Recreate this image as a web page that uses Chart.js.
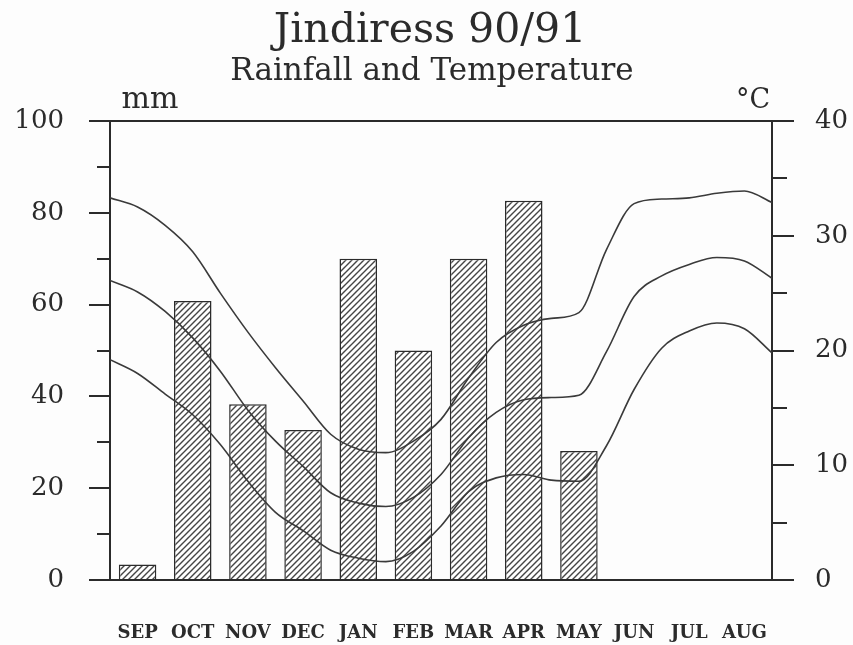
<!DOCTYPE html>
<html>
<head>
<meta charset="utf-8">
<title>Jindiress 90/91</title>
<script src="https://cdn.jsdelivr.net/npm/chart.js@4.4.0/dist/chart.umd.min.js"></script>
<style>
  html, body { margin: 0; padding: 0; background: #fdfdfd; }
  #wrap { width: 853px; height: 645px; }
</style>
</head>
<body>
<div id="wrap"><canvas id="chart" width="853" height="645"></canvas></div>
<script>
// ==== Data ====
const months = ["SEP", "OCT", "NOV", "DEC", "JAN", "FEB", "MAR", "APR", "MAY", "JUN", "JUL", "AUG"];
// rainfall, mm (no bars Jun-Aug)
const rainfall = [3.4, 60.8, 38.3, 32.7, 70, 50, 70, 82.6, 28.1, null, null, null];

// temperature curves read every half month, from the start of SEP (-0.5) to the end of AUG (11.5)
const tempPos = [-0.5, 0, 0.5, 1, 1.5, 2, 2.5, 3, 3.5, 4, 4.5, 5, 5.5, 6, 6.5, 7, 7.5, 8, 8.5, 9, 9.5, 10, 10.5, 11, 11.5];
const maxTemp = [33.3, 32.5, 30.9, 28.6, 25.0, 21.6, 18.5, 15.6, 12.7, 11.4, 11.1, 12.1, 14.0, 17.6, 20.7, 22.2, 22.8, 23.3, 28.8, 32.8, 33.2, 33.3, 33.7, 33.9, 32.9];
const meanTemp = [26.1, 25.1, 23.4, 21.1, 18.2, 14.8, 12.1, 9.9, 7.6, 6.7, 6.4, 7.2, 9.2, 12.4, 14.6, 15.7, 15.9, 16.1, 19.9, 24.7, 26.5, 27.5, 28.1, 27.8, 26.3];
const minTemp = [19.2, 18.0, 16.2, 14.4, 11.8, 8.6, 5.9, 4.3, 2.6, 1.9, 1.6, 2.5, 4.7, 7.7, 8.9, 9.2, 8.7, 8.6, 11.7, 16.6, 20.2, 21.7, 22.4, 21.9, 19.8];

// ==== Style ====
const ink = "#2b2b2b";
const lineInk = "#3a3a3a";
const serif = "'DejaVu Serif', 'Liberation Serif', serif";

// ==== Hatch pattern for the bars ====
function hatch() {
  const c = document.createElement("canvas");
  c.width = 6;
  c.height = 6;
  const g = c.getContext("2d");
  g.fillStyle = "#ffffff";
  g.fillRect(0, 0, 6, 6);
  g.strokeStyle = "#454545";
  g.lineWidth = 1.4;
  g.beginPath();
  g.moveTo(0, 6); g.lineTo(6, 0);
  g.moveTo(-1, 1); g.lineTo(1, -1);
  g.moveTo(5, 7); g.lineTo(7, 5);
  g.stroke();
  return g.createPattern(c, "repeat");
}

const toPoints = (vals) => vals.map((v, i) => ({ x: tempPos[i], y: v }));

// ==== Header texts ====
const header = {
  id: "header",
  afterDraw(chart) {
    const ctx = chart.ctx;
    ctx.save();
    ctx.fillStyle = ink;
    ctx.textAlign = "center";
    ctx.textBaseline = "alphabetic";
    ctx.font = "41px " + serif;
    ctx.fillText("Jindiress 90/91", 430, 42);
    ctx.font = "31px " + serif;
    ctx.fillText("Rainfall and Temperature", 432, 80);
    ctx.font = "30px " + serif;
    ctx.fillText("mm", 150, 108);
    ctx.font = "27px " + serif;
    ctx.fillText("\u00B0C", 753, 108);
    ctx.restore();
  }
};

const lineStyle = {
  type: "line",
  xAxisID: "xl",
  yAxisID: "y1",
  borderColor: lineInk,
  borderWidth: 1.6,
  pointRadius: 0,
  fill: false,
  cubicInterpolationMode: "monotone",
  order: 0
};

new Chart(document.getElementById("chart"), {
  type: "bar",
  data: {
    labels: months,
    datasets: [
      {
        label: "Rainfall",
        data: rainfall,
        xAxisID: "x",
        yAxisID: "y",
        backgroundColor: hatch(),
        borderColor: ink,
        borderWidth: 1.5,
        grouped: false,
        barPercentage: 0.68,
        categoryPercentage: 1,
        order: 1
      },
      { ...lineStyle, label: "Max", data: toPoints(maxTemp) },
      { ...lineStyle, label: "Mean", data: toPoints(meanTemp) },
      { ...lineStyle, label: "Min", data: toPoints(minTemp) }
    ]
  },
  options: {
    responsive: false,
    animation: false,
    layout: { padding: { top: 121, left: 0, right: 0, bottom: 0 } },
    plugins: {
      legend: { display: false },
      tooltip: { enabled: false }
    },
    scales: {
      x: {
        type: "category",
        offset: true,
        grid: { display: true, drawOnChartArea: false, drawTicks: false },
        border: { display: true, color: ink, width: 2 },
        ticks: {
          color: ink,
          padding: 43,
          autoSkip: false,
          maxRotation: 0,
          minRotation: 0,
          font: { family: serif, size: 18, weight: "bold" }
        },
        afterFit: (s) => { s.height = 65; }
      },
      xl: { type: "linear", display: false, offset: false, min: -0.5, max: 11.5, grid: { offset: false } },
      y: {
        position: "left",
        weight: 1,
        min: 0,
        max: 100,
        ticks: { stepSize: 20, color: ink, padding: 25, font: { family: serif, size: 26 } },
        grid: {
          color: (c) => (c.tick && c.tick.value === 100 ? ink : "rgba(0,0,0,0)"),
          tickColor: ink,
          tickLength: 21,
          lineWidth: 2
        },
        border: { color: ink, width: 2 },
        afterFit: (s) => { s.width = 110; }
      },
      yMinor: {
        position: "left",
        weight: 0,
        min: 0,
        max: 100,
        ticks: { stepSize: 10, display: false },
        grid: { drawOnChartArea: false, tickColor: ink, tickLength: 13, lineWidth: 2 },
        border: { display: false },
        afterFit: (s) => { s.width = 0; }
      },
      y1: {
        position: "right",
        weight: 1,
        min: 0,
        max: 40,
        ticks: { stepSize: 10, color: ink, padding: 21, font: { family: serif, size: 26 } },
        grid: { drawOnChartArea: false, tickColor: ink, tickLength: 22, lineWidth: 2 },
        border: { color: ink, width: 2 },
        afterFit: (s) => { s.width = 81; }
      },
      y1Minor: {
        position: "right",
        weight: 0,
        min: 0,
        max: 40,
        ticks: { stepSize: 5, display: false },
        grid: { drawOnChartArea: false, tickColor: ink, tickLength: 15, lineWidth: 2 },
        border: { display: false },
        afterFit: (s) => { s.width = 0; }
      }
    }
  },
  plugins: [header]
});
</script>
</body>
</html>
